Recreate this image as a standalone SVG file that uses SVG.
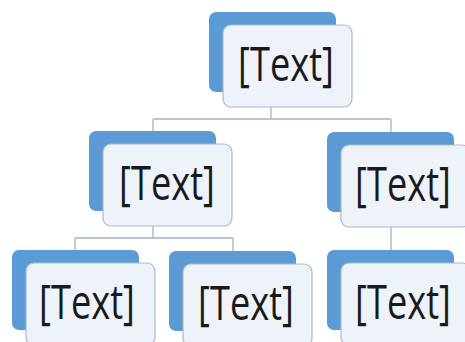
<svg xmlns="http://www.w3.org/2000/svg" width="465" height="342" viewBox="0 0 465 342">
  <style>
    .back { fill: #5B9BD5; }
    .front { fill: #EEF3FA; stroke: #A9BACF; stroke-width: 1.2; }
    .lbl { font-family: "Open Sans", "Noto Sans", sans-serif; font-size: 47px; fill: #1A1A1A; text-anchor: middle; }
    .conn { fill: none; stroke: #A3B3C7; stroke-width: 1.3; }
  </style>
  <defs>
    <g id="card">
      <rect class="back" x="0" y="0" width="127" height="80" rx="7"/>
      <rect class="front" x="14" y="13" width="129" height="82" rx="8"/>
    </g>
  </defs>

  <g id="connectors">
    <path class="conn" d="M271 107 V119 M153 119 H391 M153 119 V131 M391 119 V132"/>
    <path class="conn" d="M153 226 V238 M75 238 H233 M75 238 V250 M233 238 V251"/>
    <path class="conn" d="M391 227 V250"/>
  </g>

  <!-- labels are condensed horizontally with a scale transform -->
  <g id="node-root">
    <use href="#card" x="209" y="12"/>
    <text class="lbl" transform="translate(286 81) scale(0.77 1)">[Text]</text>
  </g>

  <g id="node-mid-left">
    <use href="#card" x="89" y="131"/>
    <text class="lbl" transform="translate(167 200) scale(0.77 1)">[Text]</text>
  </g>

  <g id="node-mid-right">
    <use href="#card" x="327" y="132"/>
    <text class="lbl" transform="translate(403 201) scale(0.77 1)">[Text]</text>
  </g>

  <g id="node-bottom-left">
    <use href="#card" x="12" y="250"/>
    <text class="lbl" transform="translate(87 319) scale(0.77 1)">[Text]</text>
  </g>

  <g id="node-bottom-mid">
    <use href="#card" x="169" y="251"/>
    <text class="lbl" transform="translate(246 320) scale(0.77 1)">[Text]</text>
  </g>

  <g id="node-bottom-right">
    <use href="#card" x="327" y="250"/>
    <text class="lbl" transform="translate(403 319) scale(0.77 1)">[Text]</text>
  </g>
</svg>
